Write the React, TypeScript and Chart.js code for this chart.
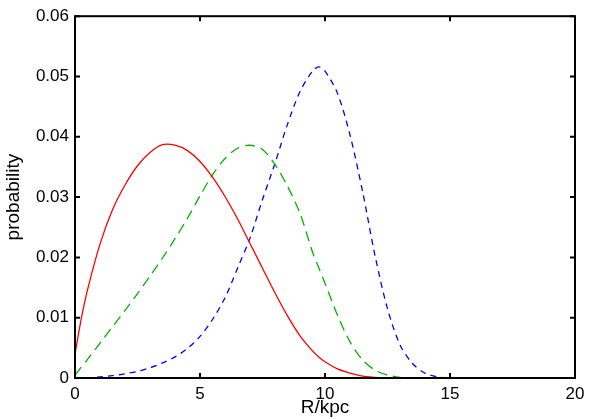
import React, { useEffect, useRef } from 'react';
import { Chart, registerables } from 'chart.js';

Chart.register(...registerables);

// radius grid (kpc)
const R = [0, 0.25, 0.5, 1, 1.5, 2, 2.5, 3, 3.5, 4, 4.5, 5, 5.5, 6, 6.5, 7, 7.5, 8, 8.5, 9, 9.5, 9.75, 10, 10.5, 11, 11.5, 12, 12.5, 13, 13.5, 14, 14.5, 15];

const redP = [0.0040, 0.0098, 0.0146, 0.0222, 0.0279, 0.0320, 0.0352, 0.0374, 0.0387, 0.0386, 0.0377, 0.0359, 0.0333, 0.0301, 0.0264, 0.0223, 0.0182, 0.0141, 0.0103, 0.0070, 0.0045, 0.0035, 0.0027, 0.0015, 0.0008, 0.0003, 0.0001, 0.0];
const greenP = [0.0005, 0.0018, 0.0031, 0.0058, 0.0085, 0.0112, 0.0140, 0.0169, 0.0199, 0.0231, 0.0265, 0.0302, 0.0337, 0.0364, 0.0381, 0.0386, 0.0379, 0.0354, 0.0318, 0.0273, 0.0209, 0.0183, 0.0157, 0.0104, 0.0060, 0.0030, 0.0013, 0.0005, 0.0001, 0.0];
const blueP = [0.0, 0.0, 0.0, 0.0002, 0.0004, 0.0007, 0.0011, 0.0017, 0.0025, 0.0035, 0.0049, 0.0069, 0.0097, 0.0133, 0.0182, 0.0232, 0.0296, 0.0356, 0.0421, 0.0475, 0.0509, 0.0516, 0.0509, 0.0472, 0.0403, 0.0310, 0.0203, 0.0115, 0.0055, 0.0024, 0.0008, 0.0002, 0.0];

const xTicks = [0, 5, 10, 15, 20];
const yTicks = [0, 0.01, 0.02, 0.03, 0.04, 0.05, 0.06];

const xTitle = 'R/kpc';
const yTitle = 'probability';

const toPts = (ys: number[]) => ys.map((y, i) => ({ x: R[i], y }));

const FONT = '"Liberation Sans", Arial, Helvetica, sans-serif';

const framePlugin = {
  id: 'frameTicks',
  afterDraw(chart: any) {
    const { ctx, chartArea } = chart;
    const { left, right, top, bottom } = chartArea;
    const xs = chart.scales.x;
    const ys = chart.scales.y;
    ctx.save();
    ctx.strokeStyle = '#000';
    ctx.lineWidth = 2;
    ctx.strokeRect(left, top, right - left, bottom - top);
    const tl = 5;
    ctx.beginPath();
    xTicks.forEach((v) => {
      const px = xs.getPixelForValue(v);
      ctx.moveTo(px, bottom);
      ctx.lineTo(px, bottom - tl);
      ctx.moveTo(px, top);
      ctx.lineTo(px, top + tl);
    });
    yTicks.forEach((v) => {
      const py = ys.getPixelForValue(v);
      ctx.moveTo(left, py);
      ctx.lineTo(left + tl, py);
      ctx.moveTo(right, py);
      ctx.lineTo(right - tl, py);
    });
    ctx.stroke();
    ctx.restore();
  },
};

export default function App() {
  const ref = useRef<HTMLCanvasElement | null>(null);

  useEffect(() => {
    document.body.style.margin = '0';
    const canvas = ref.current;
    if (!canvas) return;
    const common = {
      borderWidth: 1.3,
      pointRadius: 0,
      tension: 0.3,
      fill: false,
    };
    const chart = new Chart(canvas, {
      type: 'line',
      data: {
        datasets: [
          { ...common, label: 'red', data: toPts(redP), borderColor: '#ff0000' },
          { ...common, label: 'green', data: toPts(greenP), borderColor: '#00b400', borderDash: [10, 6] },
          { ...common, label: 'blue', data: toPts(blueP), borderColor: '#0000ff', borderDash: [6, 5] },
        ],
      },
      options: {
        responsive: false,
        animation: false,
        layout: { padding: { top: 16, right: 23, left: 0, bottom: 0 } },
        plugins: {
          legend: { display: false },
          tooltip: { enabled: false },
        },
        scales: {
          x: {
            type: 'linear',
            min: 0,
            max: 20,
            afterBuildTicks: (s: any) => {
              s.ticks = xTicks.map((v) => ({ value: v }));
            },
            afterFit: (s: any) => {
              s.height = 41;
            },
            grid: { display: false, drawTicks: false },
            border: { display: false },
            ticks: {
              color: '#000',
              font: { family: FONT, size: 17 },
              padding: 6,
              maxRotation: 0,
              callback: (v: any) => String(v),
            },
            title: {
              display: true,
              text: xTitle,
              color: '#000',
              font: { family: FONT, size: 19 },
              padding: 0,
            },
          },
          y: {
            type: 'linear',
            min: 0,
            max: 0.06,
            afterBuildTicks: (s: any) => {
              s.ticks = yTicks.map((v) => ({ value: v }));
            },
            afterFit: (s: any) => {
              s.width = 75;
            },
            grid: { display: false, drawTicks: false },
            border: { display: false },
            ticks: {
              color: '#000',
              font: { family: FONT, size: 17 },
              padding: 6,
              callback: (v: any) => (v === 0 ? '0' : Number(v).toFixed(2)),
            },
            title: {
              display: true,
              text: yTitle,
              color: '#000',
              font: { family: FONT, size: 19 },
              padding: 2,
            },
          },
        },
      },
      plugins: [framePlugin],
    });
    return () => chart.destroy();
  }, []);

  return (
    <div style={{ position: 'absolute', left: 0, top: 0, width: 598, height: 419, background: '#fff' }}>
      <canvas ref={ref} width={598} height={419} style={{ display: 'block', width: 598, height: 419 }} />
    </div>
  );
}
